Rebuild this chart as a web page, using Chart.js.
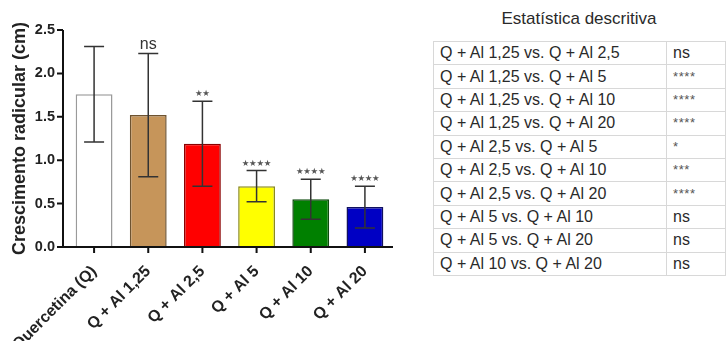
<!DOCTYPE html>
<html>
<head>
<meta charset="utf-8">
<script src="https://cdn.jsdelivr.net/npm/chart.js@4.4.1/dist/chart.umd.min.js"></script>
<style>
  html, body { margin: 0; padding: 0; background: #fff; }
  body { width: 726px; height: 341px; position: relative; overflow: hidden; font-family: "Liberation Sans", Arial, sans-serif; }
  #wrap { position: absolute; left: 0; top: 0; width: 426px; height: 341px; }
  #title { position: absolute; left: 433px; width: 292px; top: 9px; text-align: center; font-size: 17px; color: #2a2a2a; }
  table { position: absolute; left: 433px; top: 41px; border-collapse: collapse; font-size: 16px; color: #2a2a2a; }
  td { border: 1px solid #d8d8d8; height: 22.4px; padding: 0 0 0 6px; line-height: 22px; white-space: nowrap; }
  td.c1 { width: 226px; }
  td.c2 { width: 52px; }
  td.c2.star { font-size: 13px; color: #555; letter-spacing: 0.6px; vertical-align: middle; }
</style>
</head>
<body>
<div id="wrap"><canvas id="chart"></canvas></div>
<div id="title">Estatística descritiva</div>
<table id="stats"></table>
<script>
// Root growth per treatment: mean and standard deviation (cm)
const categories = ['Quercetina (Q)', 'Q + Al 1,25', 'Q + Al 2,5', 'Q + Al 5', 'Q + Al 10', 'Q + Al 20'];
const means = [1.76, 1.52, 1.19, 0.70, 0.55, 0.46];
const sds = [0.55, 0.71, 0.49, 0.18, 0.23, 0.24];
const significance = ['', 'ns', '**', '****', '****', '****'];
const barColors = ['#ffffff', '#c6955a', '#ff0000', '#ffff00', '#008000', '#0000c4'];
const barBorders = ['#9a9a9a', '#6e5330', '#8a0000', '#8a8a20', '#0b4a0b', '#101060'];
const yTickValues = [0, 0.5, 1, 1.5, 2, 2.5];

// Pairwise comparisons (descriptive statistics table)
const comparisons = [
  'Q + Al 1,25 vs. Q + Al 2,5',
  'Q + Al 1,25 vs. Q + Al 5',
  'Q + Al 1,25 vs. Q + Al 10',
  'Q + Al 1,25 vs. Q + Al 20',
  'Q + Al 2,5 vs. Q + Al 5',
  'Q + Al 2,5 vs. Q + Al 10',
  'Q + Al 2,5 vs. Q + Al 20',
  'Q + Al 5 vs. Q + Al 10',
  'Q + Al 5 vs. Q + Al 20',
  'Q + Al 10 vs. Q + Al 20'
];
const comparisonResults = ['ns', '****', '****', '****', '*', '***', '****', 'ns', 'ns', 'ns'];

const tbl = document.getElementById('stats');
comparisons.forEach((c, i) => {
  const tr = document.createElement('tr');
  const a = document.createElement('td'); a.className = 'c1'; a.textContent = c;
  const b = document.createElement('td'); b.className = 'c2' + (comparisonResults[i] === 'ns' ? '' : ' star');
  b.textContent = comparisonResults[i];
  tr.appendChild(a); tr.appendChild(b); tbl.appendChild(tr);
});

// Axis lines with outward tick marks, drawn slightly apart from the bars
const axesPlugin = {
  id: 'axesPlugin',
  afterDatasetsDraw(chart) {
    const { ctx } = chart;
    const x = chart.scales.x, y = chart.scales.y;
    const ax = chart.chartArea.left - 4;
    const y0 = y.getPixelForValue(0);
    ctx.save();
    ctx.strokeStyle = '#111';
    ctx.lineWidth = 2;
    ctx.beginPath();
    ctx.moveTo(ax, y.getPixelForValue(2.5));
    ctx.lineTo(ax, y0);
    ctx.lineTo(chart.chartArea.right + 1, y0);
    yTickValues.forEach(v => {
      const py = y.getPixelForValue(v);
      ctx.moveTo(ax - 6, py); ctx.lineTo(ax, py);
    });
    categories.forEach((c, i) => {
      const px = x.getPixelForValue(i);
      ctx.moveTo(px, y0); ctx.lineTo(px, y0 + 6);
    });
    ctx.stroke();
    ctx.restore();
  }
};

// Standard deviation whiskers and significance marks above each bar
const errorPlugin = {
  id: 'errorPlugin',
  afterDatasetsDraw(chart) {
    const { ctx } = chart;
    const y = chart.scales.y;
    const meta = chart.getDatasetMeta(0);
    ctx.save();
    meta.data.forEach((bar, i) => {
      const top = y.getPixelForValue(means[i] + sds[i]);
      const bot = y.getPixelForValue(means[i] - sds[i]);
      const cx = bar.x;
      ctx.strokeStyle = '#333';
      ctx.lineWidth = 1.5;
      ctx.beginPath();
      ctx.moveTo(cx, top); ctx.lineTo(cx, bot);
      ctx.moveTo(cx - 10, top); ctx.lineTo(cx + 10, top);
      ctx.moveTo(cx - 10, bot); ctx.lineTo(cx + 10, bot);
      ctx.stroke();
      const s = significance[i];
      if (!s) return;
      if (s === 'ns') {
        ctx.fillStyle = '#333';
        ctx.font = '16px "Liberation Sans", Arial, sans-serif';
        ctx.textAlign = 'center';
        ctx.textBaseline = 'alphabetic';
        ctx.fillText(s, cx, top - 4);
      } else {
        ctx.fillStyle = '#555';
        ctx.font = '8.5px "DejaVu Sans", sans-serif';
        ctx.textAlign = 'center';
        ctx.textBaseline = 'middle';
        const step = 7.3;
        const n = s.length;
        for (let k = 0; k < n; k++) {
          ctx.fillText('\u2605', cx + (k - (n - 1) / 2) * step, top - 7);
        }
      }
    });
    ctx.restore();
  }
};

new Chart(document.getElementById('chart'), {
  type: 'bar',
  data: {
    labels: categories,
    datasets: [{
      data: means,
      backgroundColor: barColors,
      borderColor: barBorders,
      borderWidth: 1.5,
      borderSkipped: 'bottom',
      barPercentage: 0.68,
      categoryPercentage: 1.0
    }]
  },
  options: {
    responsive: true,
    maintainAspectRatio: false,
    animation: false,
    layout: { padding: { top: 30, right: 34, left: 0, bottom: 0 } },
    plugins: { legend: { display: false }, tooltip: { enabled: false } },
    scales: {
      x: {
        grid: { display: false, drawTicks: false },
        border: { display: false },
        afterFit(scale) {
          scale.height = 94;
          scale.paddingLeft = 0;
          scale.paddingRight = 0;
        },
        ticks: {
          color: '#222',
          maxRotation: 45,
          minRotation: 45,
          autoSkip: false,
          padding: 15,
          font: { family: '"Liberation Sans", Arial, sans-serif', size: 16, weight: 'bold' }
        }
      },
      y: {
        min: 0,
        max: 2.5,
        grid: { display: false, drawTicks: false },
        border: { display: false },
        afterFit(scale) { scale.width = 67; },
        title: {
          display: true,
          text: 'Crescimento radicular (cm)',
          color: '#222',
          padding: { top: 9, bottom: 0 },
          font: { family: '"Liberation Sans", Arial, sans-serif', size: 18, weight: 'bold' }
        },
        ticks: {
          stepSize: 0.5,
          padding: 12,
          color: '#222',
          callback: v => v.toFixed(1),
          font: { family: '"Liberation Sans", Arial, sans-serif', size: 14.5, weight: 'bold' }
        }
      }
    }
  },
  plugins: [axesPlugin, errorPlugin]
});
</script>
</body>
</html>
